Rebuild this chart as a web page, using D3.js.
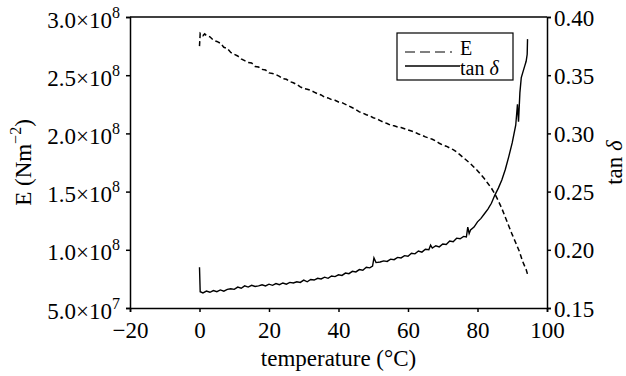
<!DOCTYPE html>
<html>
<head>
<meta charset="utf-8">
<script src="https://cdn.jsdelivr.net/npm/d3@7"></script>
<style>
  body { margin: 0; background: #fff; }
  svg { display: block; }
  text { font-family: "Liberation Serif", "Times New Roman", serif; fill: #000; }
</style>
</head>
<body>
<svg width="626" height="376"></svg>
<script>
// temperature (°C), modulus E (Nm^-2, in units of 1e8)
const eTemp = [0, 0.2, 1, 1.5, 2, 3, 4, 5, 6, 7, 8, 9, 10, 11, 12, 13, 14, 15, 16, 17, 18, 19, 20, 21, 22, 23, 24, 25, 26, 27, 28, 29, 30, 31, 32, 33, 34, 35, 36, 37, 38, 39, 40, 41, 42, 43, 44, 45, 46, 47, 48, 49, 50, 51, 52, 53, 54, 55, 56, 57, 58, 59, 60, 61, 62, 63, 64, 65, 66, 67, 68, 69, 70, 71, 72, 73, 74, 75, 76, 77, 78, 79, 80, 81, 82, 83, 84, 85, 86, 87, 88, 89, 90, 91, 92, 93, 94, 94.5];
const eVal = [2.75, 2.86, 2.84, 2.855, 2.84, 2.83, 2.80, 2.79, 2.775, 2.74, 2.73, 2.695, 2.68, 2.665, 2.64, 2.625, 2.61, 2.605, 2.575, 2.57, 2.55, 2.545, 2.52, 2.515, 2.505, 2.49, 2.47, 2.465, 2.445, 2.435, 2.42, 2.40, 2.385, 2.38, 2.37, 2.355, 2.34, 2.33, 2.31, 2.305, 2.29, 2.285, 2.27, 2.265, 2.25, 2.235, 2.22, 2.205, 2.185, 2.175, 2.16, 2.15, 2.135, 2.125, 2.11, 2.095, 2.085, 2.07, 2.065, 2.055, 2.05, 2.04, 2.03, 2.02, 2.01, 1.995, 1.985, 1.97, 1.96, 1.95, 1.935, 1.915, 1.90, 1.89, 1.875, 1.86, 1.84, 1.815, 1.79, 1.765, 1.74, 1.71, 1.68, 1.645, 1.61, 1.57, 1.53, 1.48, 1.42, 1.355, 1.28, 1.205, 1.13, 1.06, 0.99, 0.90, 0.83, 0.78];

// temperature (°C), tan delta
const tTemp = [0, 0.2, 1, 2, 3, 4, 5, 6, 7, 8, 9, 10, 11, 12, 13, 14, 15, 16, 17, 18, 19, 20, 21, 22, 23, 24, 25, 26, 27, 28, 29, 30, 31, 32, 33, 34, 35, 36, 37, 38, 39, 40, 41, 42, 43, 44, 45, 46, 47, 48, 49, 49.8, 50.2, 50.8, 52, 53, 54, 55, 56, 57, 58, 59, 60, 61, 62, 63, 64, 65, 66, 66.5, 67, 68, 69, 70, 71, 72, 73, 74, 75, 76, 76.8, 77.2, 77.6, 78, 79, 80, 81, 82, 83, 84, 85, 86, 87, 88, 89, 90, 91, 91.5, 91.8, 92.2, 92.6, 93, 93.6, 94, 94.3, 94.4];
const tVal = [0.185, 0.164, 0.163, 0.1645, 0.1635, 0.165, 0.164, 0.1655, 0.1645, 0.166, 0.1665, 0.166, 0.168, 0.167, 0.169, 0.168, 0.1695, 0.1685, 0.169, 0.170, 0.169, 0.1705, 0.1695, 0.171, 0.170, 0.1715, 0.1705, 0.172, 0.1715, 0.1725, 0.172, 0.174, 0.1725, 0.1745, 0.174, 0.1755, 0.175, 0.1765, 0.1755, 0.1775, 0.177, 0.1785, 0.178, 0.180, 0.1795, 0.1815, 0.181, 0.183, 0.1825, 0.185, 0.1845, 0.186, 0.193, 0.189, 0.1895, 0.1905, 0.190, 0.192, 0.1915, 0.1935, 0.193, 0.195, 0.1945, 0.197, 0.1965, 0.199, 0.198, 0.2005, 0.200, 0.204, 0.2015, 0.2035, 0.2025, 0.205, 0.2045, 0.2075, 0.207, 0.210, 0.2095, 0.2115, 0.211, 0.2195, 0.214, 0.217, 0.2195, 0.224, 0.227, 0.231, 0.235, 0.240, 0.247, 0.253, 0.260, 0.269, 0.280, 0.292, 0.307, 0.325, 0.310, 0.335, 0.348, 0.352, 0.358, 0.362, 0.368, 0.381];

const xTicks = [-20, 0, 20, 40, 60, 80, 100];
const eTicks = [0.5, 1.0, 1.5, 2.0, 2.5, 3.0];
const eTickLabels = [["5.0×10", "7"], ["1.0×10", "8"], ["1.5×10", "8"], ["2.0×10", "8"], ["2.5×10", "8"], ["3.0×10", "8"]];
const tTicks = [0.15, 0.20, 0.25, 0.30, 0.35, 0.40];

const svg = d3.select("svg");
const pLeft = 130, pRight = 547, pTop = 17, pBottom = 308;

const x = d3.scaleLinear().domain([-20, 100]).range([pLeft, pRight]);
const yE = d3.scaleLinear().domain([0.5, 3.0]).range([pBottom, pTop]);
const yT = d3.scaleLinear().domain([0.15, 0.40]).range([pBottom, pTop]);

// frame top line
svg.append("line")
    .attr("x1", pLeft).attr("x2", pRight)
    .attr("y1", pTop).attr("y2", pTop)
    .attr("stroke", "#000").attr("stroke-width", 1.5);

// x axis
const gx = svg.append("g")
    .attr("transform", `translate(0,${pBottom})`)
    .call(d3.axisBottom(x).tickValues(xTicks).tickSizeOuter(0).tickSize(4)
        .tickFormat(d => d < 0 ? "\u2212" + Math.abs(d) : d));
gx.selectAll("text").attr("font-size", 23).attr("dy", null).attr("y", 30);

// left axis
const gl = svg.append("g")
    .attr("transform", `translate(${pLeft},0)`)
    .call(d3.axisLeft(yE).tickValues(eTicks).tickSizeOuter(0).tickSize(4).tickFormat(""));
gl.selectAll(".tick").each(function(d, i) {
    const t = d3.select(this).select("text")
        .attr("font-size", 23).attr("x", -10).attr("dy", null).attr("y", 10)
        .attr("text-anchor", "end");
    t.append("tspan").text(eTickLabels[i][0]);
    t.append("tspan").attr("font-size", 16).attr("dy", -10).text(eTickLabels[i][1]);
});

// right axis
const gr = svg.append("g")
    .attr("transform", `translate(${pRight},0)`)
    .call(d3.axisRight(yT).tickValues(tTicks).tickSizeOuter(0).tickSize(4)
        .tickFormat(d3.format(".2f")));
gr.selectAll("text").attr("font-size", 23).attr("x", 7).attr("dy", null).attr("y", 8);

svg.selectAll(".domain, .tick line").attr("stroke", "#000").attr("stroke-width", 1.5);

// curves
const eData = eTemp.map((t, i) => [t, eVal[i]]);
const tData = tTemp.map((t, i) => [t, tVal[i]]);

svg.append("path")
    .datum(eData)
    .attr("fill", "none")
    .attr("stroke", "#000")
    .attr("stroke-width", 1.5)
    .attr("stroke-dasharray", "5,3")
    .attr("d", d3.line().x(d => x(d[0])).y(d => yE(d[1])));

svg.append("path")
    .datum(tData)
    .attr("fill", "none")
    .attr("stroke", "#000")
    .attr("stroke-width", 1.4)
    .attr("d", d3.line().x(d => x(d[0])).y(d => yT(d[1])));

// axis titles
svg.append("text")
    .attr("x", (pLeft + pRight) / 2).attr("y", 366)
    .attr("text-anchor", "middle").attr("font-size", 23)
    .text("temperature (°C)");

const ly = svg.append("text")
    .attr("transform", `translate(31,${(pTop + pBottom) / 2}) rotate(-90)`)
    .attr("text-anchor", "middle").attr("font-size", 23);
ly.append("tspan").text("E (Nm");
ly.append("tspan").attr("font-size", 16).attr("dy", -10).text("\u22122");
ly.append("tspan").attr("dy", 10).text(")");

const ry = svg.append("text")
    .attr("transform", `translate(622,${(pTop + pBottom) / 2}) rotate(-90)`)
    .attr("text-anchor", "middle").attr("font-size", 23);
ry.append("tspan").text("tan ");
ry.append("tspan").attr("font-style", "italic").text("δ");

// legend
const lg = svg.append("g");
lg.append("rect")
    .attr("x", 397).attr("y", 33).attr("width", 116).attr("height", 47)
    .attr("fill", "#fff").attr("stroke", "#000").attr("stroke-width", 1.2);
lg.append("line")
    .attr("x1", 405).attr("x2", 452).attr("y1", 52).attr("y2", 52)
    .attr("stroke", "#555").attr("stroke-width", 1.5).attr("stroke-dasharray", "10,5");
lg.append("line")
    .attr("x1", 405).attr("x2", 460).attr("y1", 66).attr("y2", 66)
    .attr("stroke", "#000").attr("stroke-width", 1.5);
lg.append("text").attr("x", 460).attr("y", 55).attr("font-size", 20).text("E");
const lt = lg.append("text").attr("x", 460).attr("y", 75).attr("font-size", 20);
lt.append("tspan").text("tan ");
lt.append("tspan").attr("font-style", "italic").text("δ");
</script>
</body>
</html>
